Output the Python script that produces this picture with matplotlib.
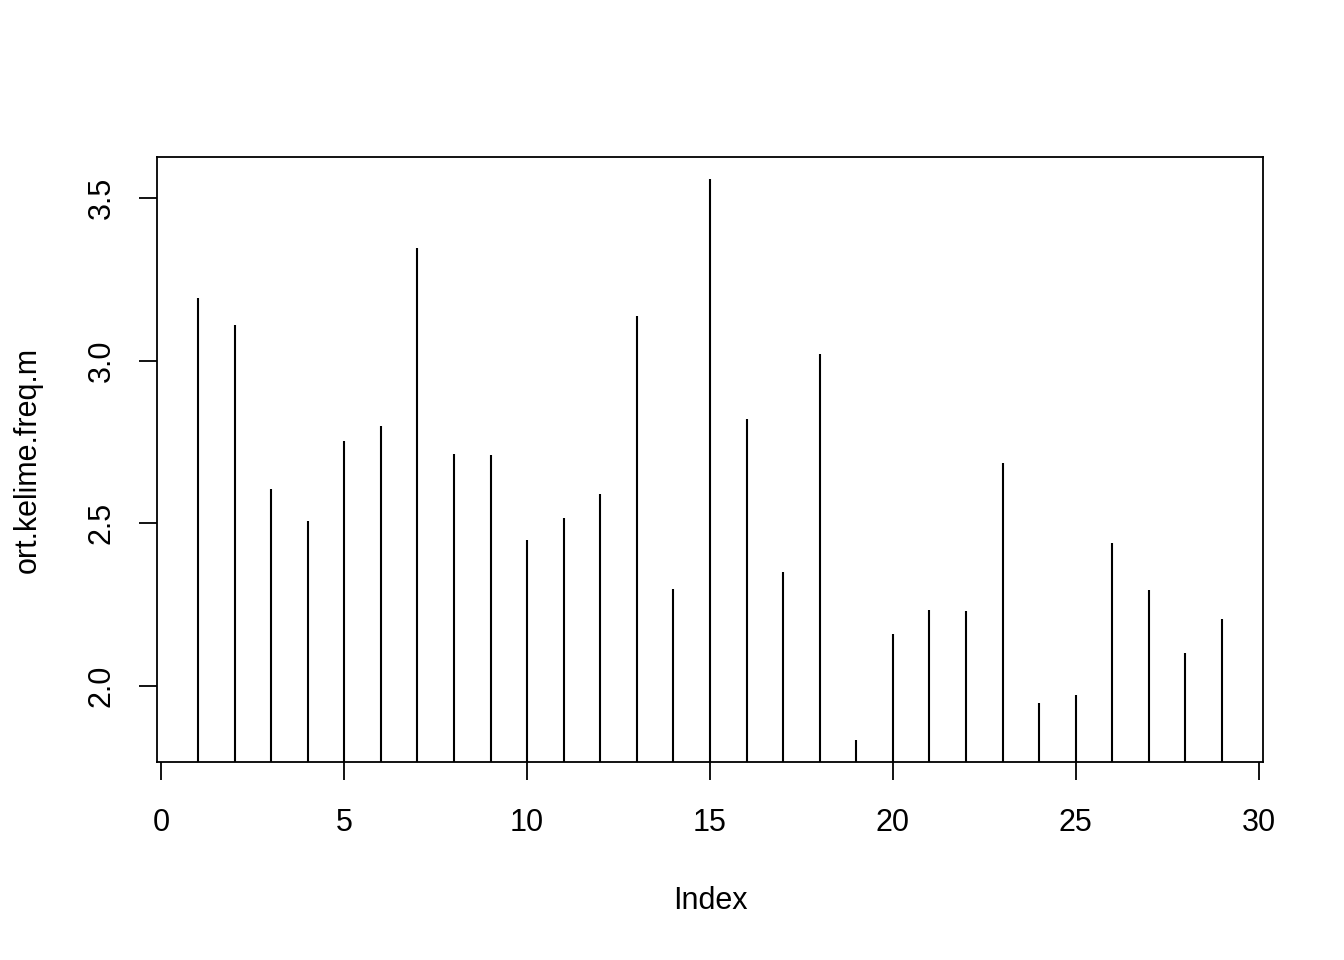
import numpy as np
import matplotlib.pyplot as plt

plt.rcParams['font.family'] = ['Liberation Sans', 'DejaVu Sans']

# ortalama kelime frekansi degerleri
index = np.arange(1, 30)
freq = [3.193, 3.110, 2.604, 2.506, 2.752, 2.798, 3.347, 2.712, 2.709, 2.448,
        2.515, 2.589, 3.138, 2.298, 3.558, 2.819, 2.350, 3.021, 1.834, 2.160,
        2.233, 2.230, 2.684, 1.948, 1.972, 2.439, 2.294, 2.101, 2.206]
xticks = [0, 5, 10, 15, 20, 25, 30]
yticks = [2.0, 2.5, 3.0, 3.5]

fig = plt.figure(figsize=(13.44, 9.6), dpi=100)
ax = fig.add_axes([0.1168, 0.2063, 0.8229, 0.6302])

# R'daki %4 genisletme
rng = max(freq) - min(freq)
ax.set_ylim(min(freq) - 0.04 * rng, max(freq) + 0.04 * rng)
ax.set_xlim(1 - 0.04 * 28, 29 + 0.04 * 28)

# type = "h" gibi dikey cizgiler
ax.vlines(index, ax.get_ylim()[0], freq, color='black', linewidth=1.5)

ax.set_xticks(xticks)
ax.set_xticklabels([str(t) for t in xticks])
ax.set_yticks(yticks)
ax.set_yticklabels([f'{t:.1f}' for t in yticks], rotation=90, va='center')
ax.tick_params(axis='both', direction='out', length=13, width=1.3,
               labelsize=22)
ax.tick_params(axis='x', pad=20)
ax.tick_params(axis='y', pad=16)
for s in ax.spines.values():
    s.set_linewidth(1.3)

ax.set_xlabel('Index', fontsize=22, labelpad=35)
ax.set_ylabel('ort.kelime.freq.m', fontsize=22, labelpad=32)

fig.savefig('out.png', dpi=100)
